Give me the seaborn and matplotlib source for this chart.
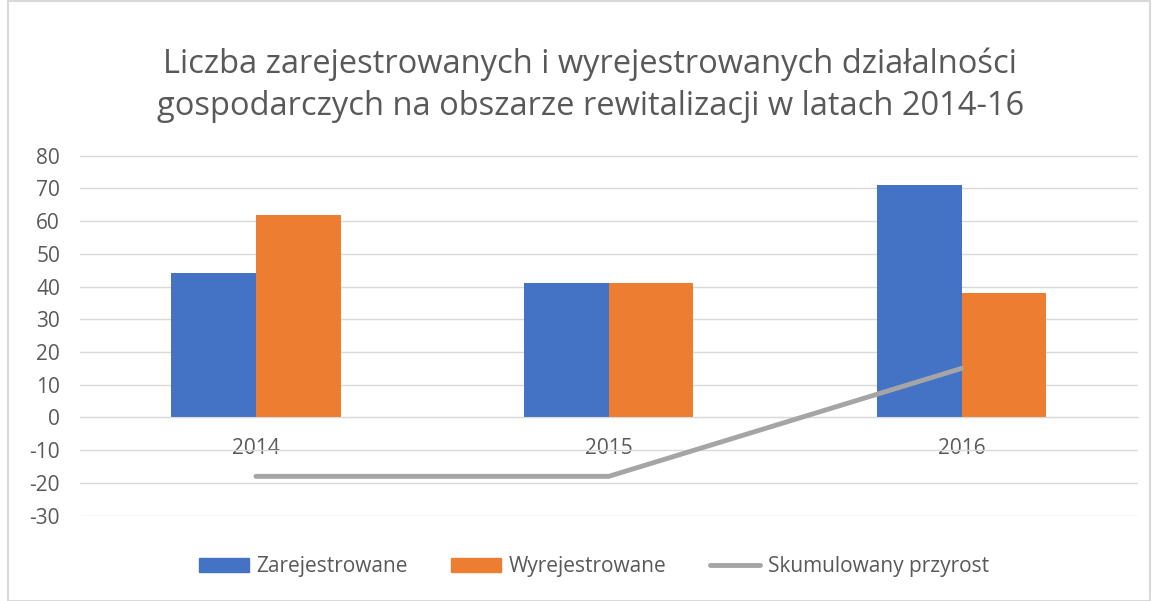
import matplotlib
matplotlib.use("Agg")
import matplotlib.pyplot as plt
import seaborn as sns
import pandas as pd
import numpy as np
from matplotlib.patches import Rectangle, Patch
from matplotlib.lines import Line2D

# dane
lata = ["2014", "2015", "2016"]
zarejestrowane = [44, 41, 71]
wyrejestrowane = [62, 41, 38]
przyrost = [-18, -18, 15]

serie = ["Zarejestrowane", "Wyrejestrowane"]
kolory = ["#4472C4", "#ED7D31"]
szary = "#A5A5A5"

df = pd.DataFrame({
    "Rok": lata * 2,
    "Seria": [serie[0]] * 3 + [serie[1]] * 3,
    "Liczba": zarejestrowane + wyrejestrowane,
})

sns.set_style("white")
plt.rcParams["font.family"] = ["Open Sans", "DejaVu Sans"]
plt.rcParams["axes.unicode_minus"] = False

fig = plt.figure(figsize=(11.53, 6.01), dpi=100)
ax = fig.add_axes([0.069, 0.141, 0.918, 0.601])

sns.barplot(data=df, x="Rok", y="Liczba", hue="Seria", palette=kolory,
            width=0.48, ax=ax, legend=False, saturation=1, zorder=2,
            linewidth=0, edgecolor="none")
sns.lineplot(x=np.arange(len(lata)), y=przyrost, color=szary, linewidth=3.5,
             ax=ax, zorder=3)

ax.set_xlim(-0.5, len(lata) - 0.5)
ax.set_ylim(-30.2, 80.2)
ax.set_yticks(range(-30, 81, 10))
ax.grid(axis="y", color="#D9D9D9", linewidth=1, zorder=0)
ax.set_axisbelow(True)
for s in ["top", "right", "left"]:
    ax.spines[s].set_visible(False)
ax.spines["bottom"].set_position(("data", 0))
ax.spines["bottom"].set_color("#D9D9D9")
ax.tick_params(axis="both", length=0, labelsize=15, colors="#595959")
ax.tick_params(axis="x", pad=15)
ax.tick_params(axis="y", pad=14)
ax.set_xlabel("")
ax.set_ylabel("")

fig.text(0.512, 0.858,
         "Liczba zarejestrowanych i wyrejestrowanych działalności\n"
         "gospodarczych na obszarze rewitalizacji w latach 2014-16",
         ha="center", va="center", fontsize=23.5, color="#595959",
         linespacing=1.36)

uchwyty = [Patch(color=kolory[0], label=serie[0]),
           Patch(color=kolory[1], label=serie[1]),
           Line2D([], [], color=szary, linewidth=3.5, label="Skumulowany przyrost")]
leg = fig.legend(handles=uchwyty, loc="center", bbox_to_anchor=(0.515, 0.057),
                 ncol=3, frameon=False, fontsize=15, handlelength=2.4,
                 handleheight=0.7, handletextpad=0.35, columnspacing=2.1)
for t in leg.get_texts():
    t.set_color("#595959")

fig.patches.append(Rectangle((0.007, 0.0), 0.99, 0.998, transform=fig.transFigure,
                             fill=False, edgecolor="#D9D9D9", linewidth=1.5))

fig.savefig("out.png", dpi=100)
